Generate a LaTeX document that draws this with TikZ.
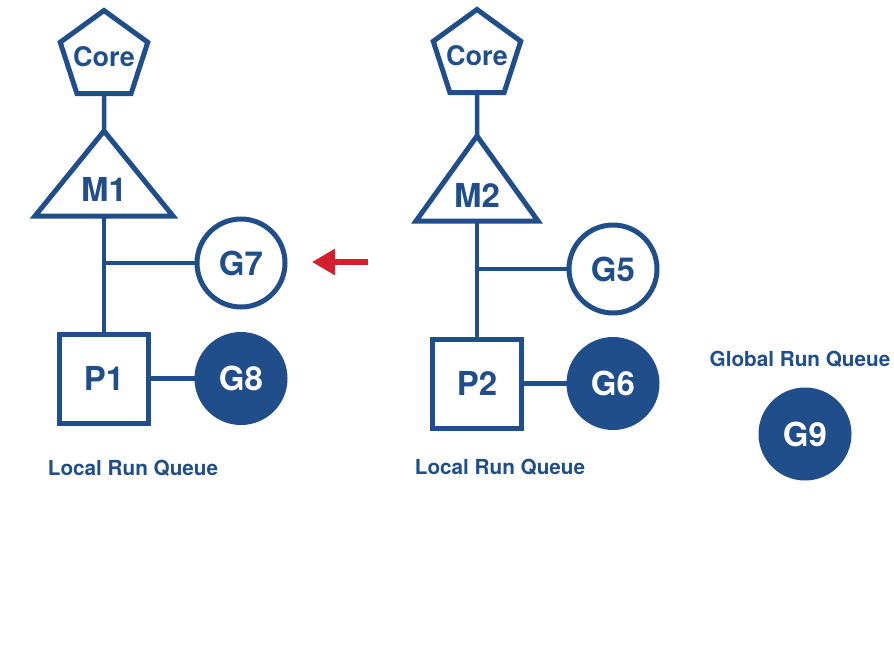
\documentclass[tikz,border=0pt]{standalone}
\usepackage{fontspec}
\setmainfont{TeX Gyre Heros}
\usepackage{tikz}
\usetikzlibrary{arrows.meta, shapes.geometric}

\definecolor{gblue}{HTML}{1F4E8A}
\definecolor{gred}{HTML}{D2202E}

\begin{document}
\begin{tikzpicture}[
    x=1pt, y=-1pt,
    pent/.style={regular polygon, regular polygon sides=5, draw=gblue, line width=5pt, inner sep=-4.5pt, text=gblue, font=\bfseries\fontsize{27}{27}\selectfont},
    tri/.style={draw=gblue, line width=5pt, line join=miter},
    proc/.style={rectangle, draw=gblue, line width=5pt, minimum size=89pt, inner sep=0pt, text=gblue, font=\bfseries\fontsize{33}{33}\selectfont},
    gor/.style={circle, draw=gblue, line width=5pt, minimum size=88pt, inner sep=0pt, text=gblue, font=\bfseries\fontsize{33}{33}\selectfont},
    grun/.style={gor, fill=gblue, text=white},
    lbl/.style={text=gblue, font=\bfseries\fontsize{33}{33}\selectfont},
    queue/.style={text=gblue, font=\bfseries\fontsize{20.7}{21}\selectfont},
    link/.style={draw=gblue, line width=4.5pt},
    arrow/.style={-{Triangle[length=23pt, width=25pt]}, draw=gred, line width=6pt}
]
\useasboundingbox (0,0) rectangle (894,670);

% left side
\node[pent] (core1) at (104,56.5) {Core};
\coordinate (m1top) at (104,131);
\coordinate (m1bot) at (104,216);
\draw[tri] (m1top) -- (173,216) -- (35,216) -- cycle;
\node[lbl] (m1) at (104,189) {M1};
\node[gor] (g7) at (241,263) {G7};
\node[proc] (p1) at (104,378.5) {P1};
\node[grun] (g8) at (241,378.5) {G8};
\node[queue] (lrq1) at (133,468) {Local Run Queue};
\coordinate (br1) at (104,263);

\draw[link] (core1.south) -- (m1top);
\draw[link] (m1bot) -- (p1.north);
\draw[link] (br1) -- (g7.west);
\draw[link] (p1.east) -- (g8.west);

% steal arrow
\coordinate (stealfrom) at (368,262);
\coordinate (stealto) at (312,262);
\draw[arrow] (stealfrom) -- (stealto);

% right side
\node[pent] (core2) at (477,55.5) {Core};
\coordinate (m2top) at (477,136);
\coordinate (m2bot) at (477,221);
\draw[tri] (m2top) -- (538,221) -- (416,221) -- cycle;
\node[lbl] (m2) at (477,195) {M2};
\node[gor] (g5) at (613,269) {G5};
\node[proc] (p2) at (477,383.5) {P2};
\node[grun] (g6) at (613,383.5) {G6};
\node[queue] (lrq2) at (500,467) {Local Run Queue};
\coordinate (br2) at (477,269);

\draw[link] (core2.south) -- (m2top);
\draw[link] (m2bot) -- (p2.north);
\draw[link] (br2) -- (g5.west);
\draw[link] (p2.east) -- (g6.west);

% global queue
\node[queue] (grq) at (800,359) {Global Run Queue};
\node[grun] (g9) at (805,434) {G9};

\end{tikzpicture}
\end{document}
